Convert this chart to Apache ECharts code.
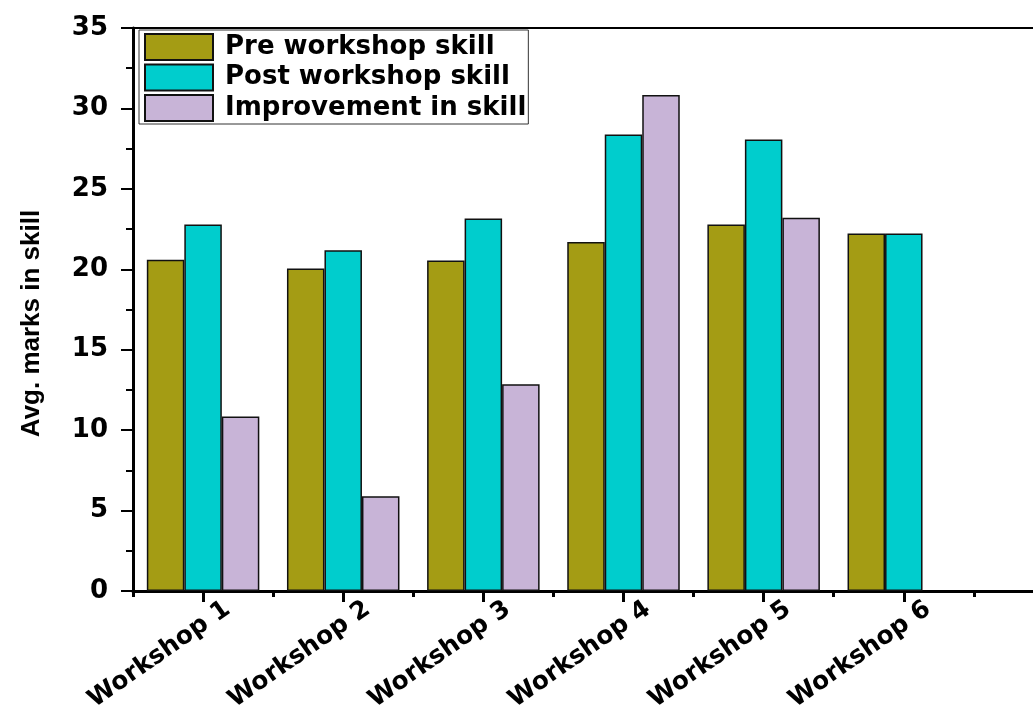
<!DOCTYPE html>
<html>
<head>
<meta charset="utf-8">
<script src="https://cdn.jsdelivr.net/npm/echarts@6/dist/echarts.min.js"></script>
<style>
  html, body { margin: 0; padding: 0; background: #fff; }
  #chart { width: 1033px; height: 717px; }
</style>
</head>
<body>
<div id="chart"></div>
<script>
// Workshop names along the x axis
const workshops = ['Workshop 1', 'Workshop 2', 'Workshop 3', 'Workshop 4', 'Workshop 5', 'Workshop 6'];
// Average marks before and after each workshop
const preSkill = [20.6, 20.05, 20.55, 21.7, 22.78, 22.22];
const postSkill = [22.78, 21.19, 23.16, 28.38, 28.07, 22.22];
// Improvement in skill (%)
const improvement = [10.85, 5.89, 12.85, 30.83, 23.2, null];

const seriesNames = ['Pre workshop skill', 'Post workshop skill', 'Improvement in skill'];
const seriesColors = ['#A49C14', '#00CDCD', '#C8B4D7'];

// one spare empty slot after the last workshop keeps the axis running on
const axisCategories = workshops.concat(['']);

const boldWide = 'DejaVu Sans';
const chart = echarts.init(document.getElementById('chart'));

function barSeries(i, values) {
  return {
    name: seriesNames[i],
    type: 'bar',
    data: values,
    barWidth: 37.5,
    barGap: '0%',
    itemStyle: { color: seriesColors[i], borderColor: '#111', borderWidth: 1.5 },
    emphasis: { disabled: true }
  };
}

chart.setOption({
  animation: false,
  backgroundColor: '#fff',
  // the plot runs past the right edge of the page
  grid: { left: 133, top: 28, height: 563, width: 981, containLabel: false, outerBoundsMode: 'none' },
  legend: {
    orient: 'vertical',
    left: 139,
    top: 30,
    padding: [3, 2, 2, 5],
    icon: 'rect',
    itemWidth: 68,
    itemHeight: 26,
    itemGap: 2.5,
    borderColor: '#333',
    borderWidth: 1,
    backgroundColor: '#fff',
    selectedMode: false,
    textStyle: {
      fontFamily: boldWide, fontWeight: 'bold', fontSize: 26, color: '#000',
      lineHeight: 26, padding: [0, 0, 0, 7]
    },
    data: seriesNames
  },
  xAxis: [
    {
      type: 'category',
      data: axisCategories,
      position: 'bottom',
      axisLine: { show: true, lineStyle: { color: '#000', width: 3 } },
      axisTick: { show: true, alignWithLabel: true, length: 11, lineStyle: { color: '#000', width: 3 } },
      axisLabel: {
        show: true, interval: 0, rotate: 35, margin: 33,
        padding: [0, -30, 0, 0],
        fontFamily: boldWide, fontWeight: 'bold', fontSize: 25, color: '#000'
      },
      splitLine: { show: false }
    },
    {
      // short ticks on the boundaries between workshops
      type: 'category',
      data: axisCategories,
      position: 'bottom',
      axisLine: { show: false },
      axisTick: { show: true, alignWithLabel: false, length: 6, lineStyle: { color: '#000', width: 3 } },
      axisLabel: { show: false },
      splitLine: { show: false }
    },
    {
      // frame line along the top of the plot
      type: 'category',
      data: axisCategories,
      position: 'top',
      axisLine: { show: true, lineStyle: { color: '#000', width: 2 } },
      axisTick: { show: false },
      axisLabel: { show: false },
      splitLine: { show: false }
    }
  ],
  yAxis: {
    type: 'value',
    min: 0,
    max: 35,
    interval: 5,
    name: 'Avg. marks in skill',
    nameLocation: 'middle',
    nameRotate: 90,
    nameGap: 88,
    nameTextStyle: {
      fontFamily: 'Liberation Sans', fontWeight: 'bold', fontSize: 26, color: '#000',
      padding: [0, 28, 0, 0]
    },
    axisLine: { show: true, lineStyle: { color: '#000', width: 3 } },
    axisTick: { show: true, length: 12, lineStyle: { color: '#000', width: 2 } },
    minorTick: { show: true, splitNumber: 2, length: 7, lineStyle: { color: '#000', width: 2 } },
    axisLabel: { margin: 25, fontFamily: boldWide, fontWeight: 'bold', fontSize: 26, color: '#000' },
    splitLine: { show: false }
  },
  series: [
    barSeries(0, preSkill),
    barSeries(1, postSkill),
    barSeries(2, improvement)
  ]
});
</script>
</body>
</html>
